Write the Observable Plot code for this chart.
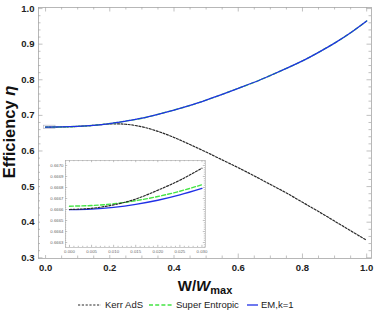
<!DOCTYPE html>
<html><head><meta charset="utf-8">
<script src="https://cdn.jsdelivr.net/npm/d3@7"></script>
<script src="https://cdn.jsdelivr.net/npm/@observablehq/plot@0.6"></script>
<style>
body{margin:0;background:#fff;}
#wrap{position:relative;width:374px;height:315px;}
#inset{position:absolute;left:40px;top:157px;}
</style></head><body><div id="wrap"><div id="main"></div><div id="inset"></div></div>
<script>
// ---- data ----
const wMain   = [0, 0.05, 0.1, 0.15, 0.2, 0.25, 0.3, 0.35, 0.4, 0.45, 0.5, 0.55, 0.6, 0.65, 0.7, 0.75, 0.8, 0.85, 0.9, 0.95, 1.0];
const kerrEta = [0.667, 0.6675, 0.669, 0.672, 0.676, 0.675, 0.668, 0.655, 0.638, 0.618, 0.597, 0.575, 0.553, 0.530, 0.506, 0.482, 0.456, 0.430, 0.403, 0.376, 0.349];
const seEta   = [0.667, 0.6675, 0.669, 0.672, 0.677, 0.684, 0.692, 0.703, 0.715, 0.728, 0.743, 0.759, 0.776, 0.793, 0.812, 0.832, 0.853, 0.877, 0.903, 0.932, 0.965];
const emEta   = [0.667, 0.6675, 0.669, 0.672, 0.677, 0.684, 0.692, 0.703, 0.715, 0.728, 0.743, 0.759, 0.776, 0.793, 0.812, 0.832, 0.853, 0.877, 0.903, 0.932, 0.965];

const wInset    = [0, 0.005, 0.010, 0.015, 0.020, 0.025, 0.030];
const kerrInset = [0.666600, 0.666611, 0.666642, 0.666695, 0.666775, 0.666866, 0.666975];
const seInset   = [0.666630, 0.666636, 0.666652, 0.666680, 0.666718, 0.666766, 0.666825];
const emInset   = [0.666598, 0.666604, 0.666620, 0.666647, 0.666684, 0.666732, 0.666791];

const xTicks = [0, 0.2, 0.4, 0.6, 0.8, 1.0];
const yTicks = [0.3, 0.4, 0.5, 0.6, 0.7, 0.8, 0.9, 1.0];
const insetXTicks = [0, 0.005, 0.010, 0.015, 0.020, 0.025, 0.030];
const insetYTicks = [0.6663, 0.6664, 0.6665, 0.6666, 0.6667, 0.6668, 0.6669, 0.6670];
const boxX = [-0.005, 0.031];
const boxY = [0.662, 0.671];
const seriesNames = ["Kerr AdS", "Super Entropic", "EM,k=1"];
const yTitle = "Efficiency ";
const yTitleSym = "η";

// ---- styles ----
const frameColor = "#a6a6a6";
const colors = ["#2a2a2a", "#44e444", "#2030e6"];
const dashes = ["2,1.6", "4,2.2", null];
const widths = [1.2, 1.4, 1.3];
const font = "'Liberation Sans', Arial, sans-serif";

function rows(xs, ys) { return xs.map((x, i) => ({x, y: ys[i]})); }

// ---- main plot ----
const W = 374, H = 315, mL = 38, mR = 3, mT = 7, mB = 57;
const xDom = [-0.022, 1.015], yDom = [0.298, 1.003];
const px = (xDom[1] - xDom[0]) / (W - mL - mR);
const py = (yDom[1] - yDom[0]) / (H - mT - mB);
const xMinor = d3.range(0, 1.0001, 0.05).filter(v => !xTicks.some(t => Math.abs(t - v) < 1e-9));
const yMinor = d3.range(0.3, 1.0001, 0.02).filter(v => !yTicks.some(t => Math.abs(t - v) < 1e-9));

function frameTicks(xs, ys, xMin, yMin, xD, yD, pxx, pyy, big, small) {
  const m = [];
  const add = (arr, len) => {
    m.push(Plot.ruleX(arr, {x: d => d, y1: yD[0], y2: yD[0] + len * pyy, stroke: frameColor, strokeWidth: 0.7}));
    m.push(Plot.ruleX(arr, {x: d => d, y1: yD[1], y2: yD[1] - len * pyy, stroke: frameColor, strokeWidth: 0.7}));
  };
  const addY = (arr, len) => {
    m.push(Plot.ruleY(arr, {y: d => d, x1: xD[0], x2: xD[0] + len * pxx, stroke: frameColor, strokeWidth: 0.7}));
    m.push(Plot.ruleY(arr, {y: d => d, x1: xD[1], x2: xD[1] - len * pxx, stroke: frameColor, strokeWidth: 0.7}));
  };
  add(xs, big); add(xMin, small); addY(ys, big); addY(yMin, small);
  return m;
}

const main = Plot.plot({
  width: W, height: H, marginLeft: mL, marginRight: mR, marginTop: mT, marginBottom: mB,
  x: {domain: xDom}, y: {domain: yDom},
  style: {fontFamily: font, background: "transparent", overflow: "visible"},
  marks: [
    Plot.frame({stroke: frameColor, strokeWidth: 0.8}),
    ...frameTicks(xTicks, yTicks, xMinor, yMinor, xDom, yDom, px, py, 4.5, 2.5),
    Plot.axisX(xTicks, {tickSize: 0, tickPadding: 6, tickFormat: d3.format(".1f"), fontWeight: "bold", fontSize: 9.5, fill: "#222", label: null}),
    Plot.axisY(yTicks, {tickSize: 0, tickPadding: 4, tickFormat: d3.format(".1f"), fontWeight: "bold", fontSize: 9.5, fill: "#222", label: null}),
    Plot.rect([0], {x1: () => boxX[0], x2: () => boxX[1], y1: () => boxY[0], y2: () => boxY[1], fill: "none", stroke: "#b8b8c8", strokeWidth: 0.7}),
    Plot.line(rows(wMain, kerrEta), {x: "x", y: "y", curve: "natural", stroke: colors[0], strokeWidth: widths[0], strokeDasharray: dashes[0]}),
    Plot.line(rows(wMain, seEta), {x: "x", y: "y", curve: "natural", stroke: colors[1], strokeWidth: widths[1], strokeDasharray: dashes[1]}),
    Plot.line(rows(wMain, emEta), {x: "x", y: "y", curve: "natural", stroke: colors[2], strokeWidth: widths[2]})
  ]
});
document.getElementById("main").appendChild(main);

// axis titles
const svg = d3.select(main);
const yt = svg.append("text")
  .attr("transform", "translate(15,132) rotate(-90)")
  .attr("text-anchor", "middle")
  .attr("font-family", font).attr("font-weight", "bold").attr("font-size", 16.5).attr("fill", "#111");
yt.append("tspan").text(yTitle);
yt.append("tspan").attr("font-style", "italic").text(yTitleSym);

const xt = svg.append("text")
  .attr("x", 205).attr("y", 291)
  .attr("text-anchor", "middle")
  .attr("font-family", font).attr("font-weight", "bold").attr("font-size", 15).attr("fill", "#111");
xt.append("tspan").text("W/");
xt.append("tspan").attr("font-style", "italic").text("W");
xt.append("tspan").attr("font-size", 11).attr("dy", 3).text("max");

// legend
const legX = [[78, 101, 105], [149, 172, 176], [247, 258, 261]];
const legY = 305;
seriesNames.forEach((name, i) => {
  const [a, b, t] = legX[i];
  svg.append("line").attr("x1", a).attr("x2", b).attr("y1", legY).attr("y2", legY)
    .attr("stroke", colors[i]).attr("stroke-width", widths[i])
    .attr("stroke-dasharray", dashes[i] ? dashes[i].replace("2,1.6", "2.2,1.6") : null);
  svg.append("text").attr("x", t).attr("y", legY + 3.3).attr("text-anchor", "start")
    .attr("font-family", font).attr("font-size", 9.5).attr("fill", "#222").text(name);
});

// ---- inset ----
const iW = 168, iH = 98, imL = 25, imR = 3, imT = 3, imB = 8;
const ixDom = [-0.0009, 0.0308], iyDom = [0.666255, 0.667045];
const ipx = (ixDom[1] - ixDom[0]) / (iW - imL - imR);
const ipy = (iyDom[1] - iyDom[0]) / (iH - imT - imB);
const ixMinor = d3.range(0, 0.03001, 0.001).filter(v => !insetXTicks.some(t => Math.abs(t - v) < 1e-9));
const iyMinor = d3.range(0.66626, 0.66704, 0.00002).filter(v => !insetYTicks.some(t => Math.abs(t - v) < 1e-9));

const inset = Plot.plot({
  width: iW, height: iH, marginLeft: imL, marginRight: imR, marginTop: imT, marginBottom: imB,
  x: {domain: ixDom}, y: {domain: iyDom},
  style: {fontFamily: font, background: "white", overflow: "visible"},
  marks: [
    Plot.frame({stroke: frameColor, strokeWidth: 0.6}),
    ...frameTicks(insetXTicks, insetYTicks, ixMinor, iyMinor, ixDom, iyDom, ipx, ipy, 2.2, 1.2),
    Plot.axisX(insetXTicks, {tickSize: 0, tickPadding: 2, tickFormat: d3.format(".3f"), fontSize: 4.3, fill: "#666", label: null}),
    Plot.axisY(insetYTicks, {tickSize: 0, tickPadding: 2, tickFormat: d3.format(".4f"), fontSize: 4.3, fill: "#666", label: null}),
    Plot.line(rows(wInset, seInset), {x: "x", y: "y", curve: "natural", stroke: colors[1], strokeWidth: 1.4, strokeDasharray: "4,2.2"}),
    Plot.line(rows(wInset, emInset), {x: "x", y: "y", curve: "natural", stroke: colors[2], strokeWidth: 1.3}),
    Plot.line(rows(wInset, kerrInset), {x: "x", y: "y", curve: "natural", stroke: colors[0], strokeWidth: 1.2, strokeDasharray: "2,1.6"})
  ]
});
document.getElementById("inset").appendChild(inset);
</script>
</body></html>
